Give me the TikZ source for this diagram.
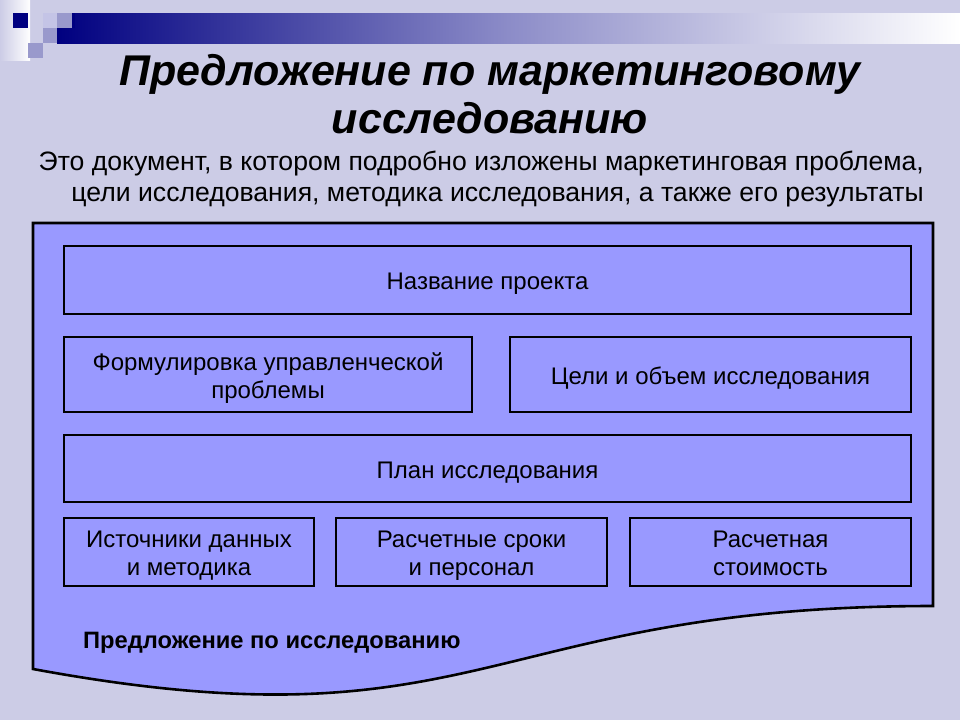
\documentclass[tikz,border=0pt]{standalone}
\usepackage{fontspec}
\setmainfont{Liberation Sans}
\definecolor{bgc}{RGB}{204,204,230}
\definecolor{docc}{RGB}{153,153,255}
\definecolor{navyc}{RGB}{0,0,128}
\definecolor{midc}{RGB}{153,153,204}
\definecolor{lightc}{RGB}{196,196,230}
\tikzset{
  box/.style={draw=black, line width=2.6pt, fill=docc, inner sep=0pt, align=center, font=\fontsize{24}{28}\selectfont, text depth=0pt},
  txt/.style={inner sep=0pt},
}
\newcommand{\sline}[1]{\strut #1\strut}
\begin{document}
\begin{tikzpicture}[x=1pt,y=-1pt]
\fill[bgc] (0,0) rectangle (960,720);
\useasboundingbox (0,0) rectangle (960,720);
% left strip gradient
\shade[left color=bgc, right color=white] (0,0) rectangle (30,60);
% top bar
\shade[left color=navyc, right color=white, middle color={rgb,255:red,140;green,140;blue,200}] (57,13) rectangle (960,43);
\fill[midc] (57,13) rectangle (72,28);
\fill[lightc] (43,13) rectangle (57,28);
\fill[navyc] (72,13) rectangle (75,28);
\fill[midc] (43,28) rectangle (57,43);
\fill[midc] (28,43) rectangle (43,58);
\fill[navyc] (13,13) rectangle (28,28);
% title
\node[txt, font=\fontsize{43}{48}\selectfont\bfseries\itshape, anchor=base] (t1) at (490,85) {Предложение по маркетинговому};
\node[txt, font=\fontsize{43}{48}\selectfont\bfseries\itshape, anchor=base] (t2) at (490,133) {исследованию};
\node[txt, font=\fontsize{26.6}{31}\selectfont, anchor=base east] (s1) at (924,170) {Это документ, в котором подробно изложены маркетинговая проблема,};
\node[txt, font=\fontsize{26.6}{31}\selectfont, anchor=base east] (s2) at (924,201) {цели исследования, методика исследования, а также его результаты};
% document shape
\draw[line width=2.6pt, fill=docc, line join=miter] (33,223) -- (933,223) -- (933,606) .. controls (483,606) and (483,752) .. (33,669) -- cycle;
% boxes
\node[box, minimum width=847pt, minimum height=68pt] (name) at (487.5,280) {\sline{Название проекта}};
\node[box, minimum width=408pt, minimum height=75pt] (form) at (268,374.5) {\sline{Формулировка управленческой}\\\sline{проблемы}};
\node[box, minimum width=401pt, minimum height=75pt] (goal) at (710.5,374.5) {\sline{Цели и объем исследования}};
\node[box, minimum width=847pt, minimum height=67pt] (plan) at (487.5,468.5) {\sline{План исследования}};
\node[box, minimum width=250pt, minimum height=68pt] (src) at (189,552) {\sline{Источники данных}\\\sline{и методика}};
\node[box, minimum width=271pt, minimum height=68pt] (time) at (471.5,552) {\sline{Расчетные сроки}\\\sline{и персонал}};
\node[box, minimum width=281pt, minimum height=68pt] (cost) at (770.5,552) {\sline{Расчетная}\\\sline{стоимость}};
\node[txt, font=\fontsize{23.7}{28}\selectfont\bfseries, anchor=base west] (lbl) at (83,648) {Предложение по исследованию};
\end{tikzpicture}
\end{document}
